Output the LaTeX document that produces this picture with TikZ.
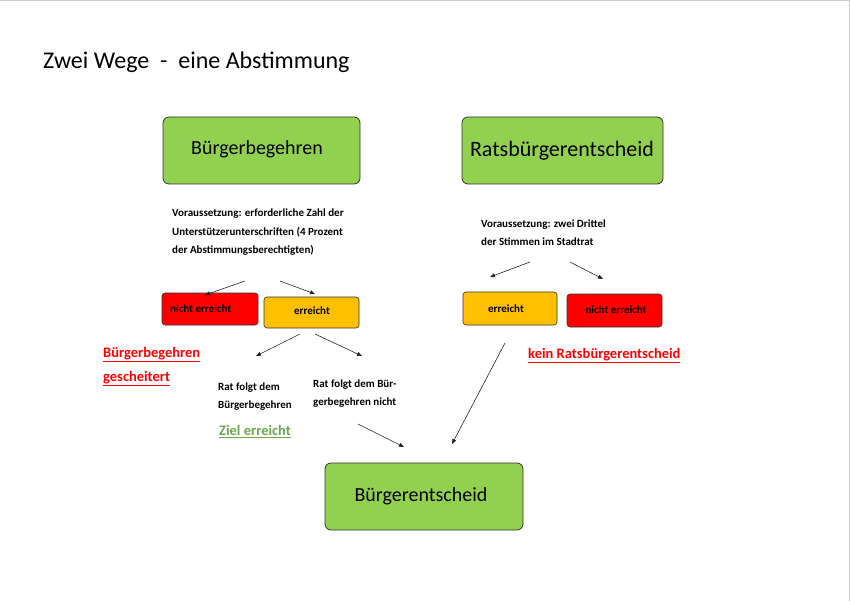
\documentclass[tikz,border=0pt]{standalone}
\usepackage{fontspec}
\setmainfont{Carlito}
\usetikzlibrary{arrows.meta}
\definecolor{boxgreen}{HTML}{92D050}
\definecolor{boxred}{HTML}{FF0000}
\definecolor{boxorange}{HTML}{FFC000}
\definecolor{zielgreen}{HTML}{6AA84F}
\tikzset{
  bigbox/.style={draw=black!80, line width=0.8pt, fill=boxgreen, rounded corners=6pt},
  smallbox/.style={draw=black!80, line width=0.6pt, rounded corners=3pt},
  arr/.style={-{Triangle[length=5pt,width=4pt]}, line width=0.6pt, black!85},
  note/.style={anchor=north west, align=left, font=\fontsize{11}{18.5}\selectfont\bfseries, inner sep=0pt},
  res/.style={anchor=north west, align=left, font=\fontsize{14.5}{24}\selectfont\bfseries, inner sep=0pt}
}
\begin{document}
\begin{tikzpicture}[x=1pt,y=-1pt]
\useasboundingbox (0,0) rectangle (850,601);
\fill[white] (0,0) rectangle (850,601);
\draw[black!20] (0,0.5) -- (849.5,0.5) -- (849.5,601);
\node[anchor=west, inner sep=0pt, font=\fontsize{24}{28}\selectfont] (title) at (43,62) {Zwei Wege \ - \ eine Abstimmung};
% top boxes
\draw[bigbox] (163,117) rectangle (360,184);
\node[font=\fontsize{20}{24}\selectfont] (bb) at (257,149) {Bürgerbegehren};
\draw[bigbox] (462,117) rectangle (663,184);
\node[font=\fontsize{22}{26}\selectfont] (rb) at (562,151) {Ratsbürgerentscheid};
% left branch
\node[note] (vl) at (172,209) {Voraussetzung: erforderliche Zahl der\\Unterstützerunterschriften (4 Prozent\\der Abstimmungsberechtigten)};
\coordinate (vl1) at (245,281); \coordinate (vl2) at (280,281);
\draw[smallbox, fill=boxred] (162,293) rectangle (258,325);
\node[anchor=west, font=\fontsize{11}{13}\selectfont\bfseries, inner sep=0pt] (ne1) at (170,309) {nicht erreicht};
\draw[smallbox, fill=boxorange] (264,297) rectangle (359,328);
\node[font=\fontsize{11}{13}\selectfont\bfseries, inner sep=0pt] (e1) at (312,311) {erreicht};
\draw[arr] (vl1) -- (205,295);
\draw[arr] (vl2) -- (315,294);
\coordinate (e1a) at (300,334); \coordinate (e1b) at (315,334);
\coordinate (t1) at (256,356); \coordinate (t2) at (362,356);
\draw[arr] (e1a) -- (t1);
\draw[arr] (e1b) -- (t2);
\node[res, text=boxred] (gesch) at (103,347) {\underline{Bürgerbegehren}\\\underline{gescheitert}};
\node[note, font=\fontsize{11}{17.5}\selectfont\bfseries] (rf1) at (218,383) {Rat folgt dem\\Bürgerbegehren};
\node[note, font=\fontsize{11}{17.5}\selectfont\bfseries] (rf2) at (313,380) {Rat folgt dem Bür-\\gerbegehren nicht};
\node[res, text=zielgreen] (ziel) at (219,425) {\underline{Ziel erreicht}};
% right branch
\node[note, font=\fontsize{11}{17.5}\selectfont\bfseries] (vr) at (481,220) {Voraussetzung: zwei Drittel\\der Stimmen im Stadtrat};
\coordinate (vr1) at (530,262); \coordinate (vr2) at (570,262);
\draw[arr] (vr1) -- (490,277);
\draw[arr] (vr2) -- (603,279);
\draw[smallbox, fill=boxorange] (463,292) rectangle (557,325);
\node[font=\fontsize{11}{13}\selectfont\bfseries, inner sep=0pt] (e2) at (506,309) {erreicht};
\draw[smallbox, fill=boxred] (567,294) rectangle (662,327);
\node[font=\fontsize{11}{13}\selectfont\bfseries, inner sep=0pt] (ne2) at (616,310) {nicht erreicht};
\node[res, text=boxred] (kein) at (528,348) {\underline{kein Ratsbürgerentscheid}};
% bottom
\draw[bigbox] (325,463) rectangle (523,530);
\node[font=\fontsize{20}{24}\selectfont] (be) at (421,496) {Bürgerentscheid};
\coordinate (a1) at (358,424); \coordinate (a1e) at (404,447);
\coordinate (a2) at (505,343); \coordinate (a2e) at (452,444);
\draw[arr] (a1) -- (a1e);
\draw[arr] (a2) -- (a2e);
\end{tikzpicture}
\end{document}
